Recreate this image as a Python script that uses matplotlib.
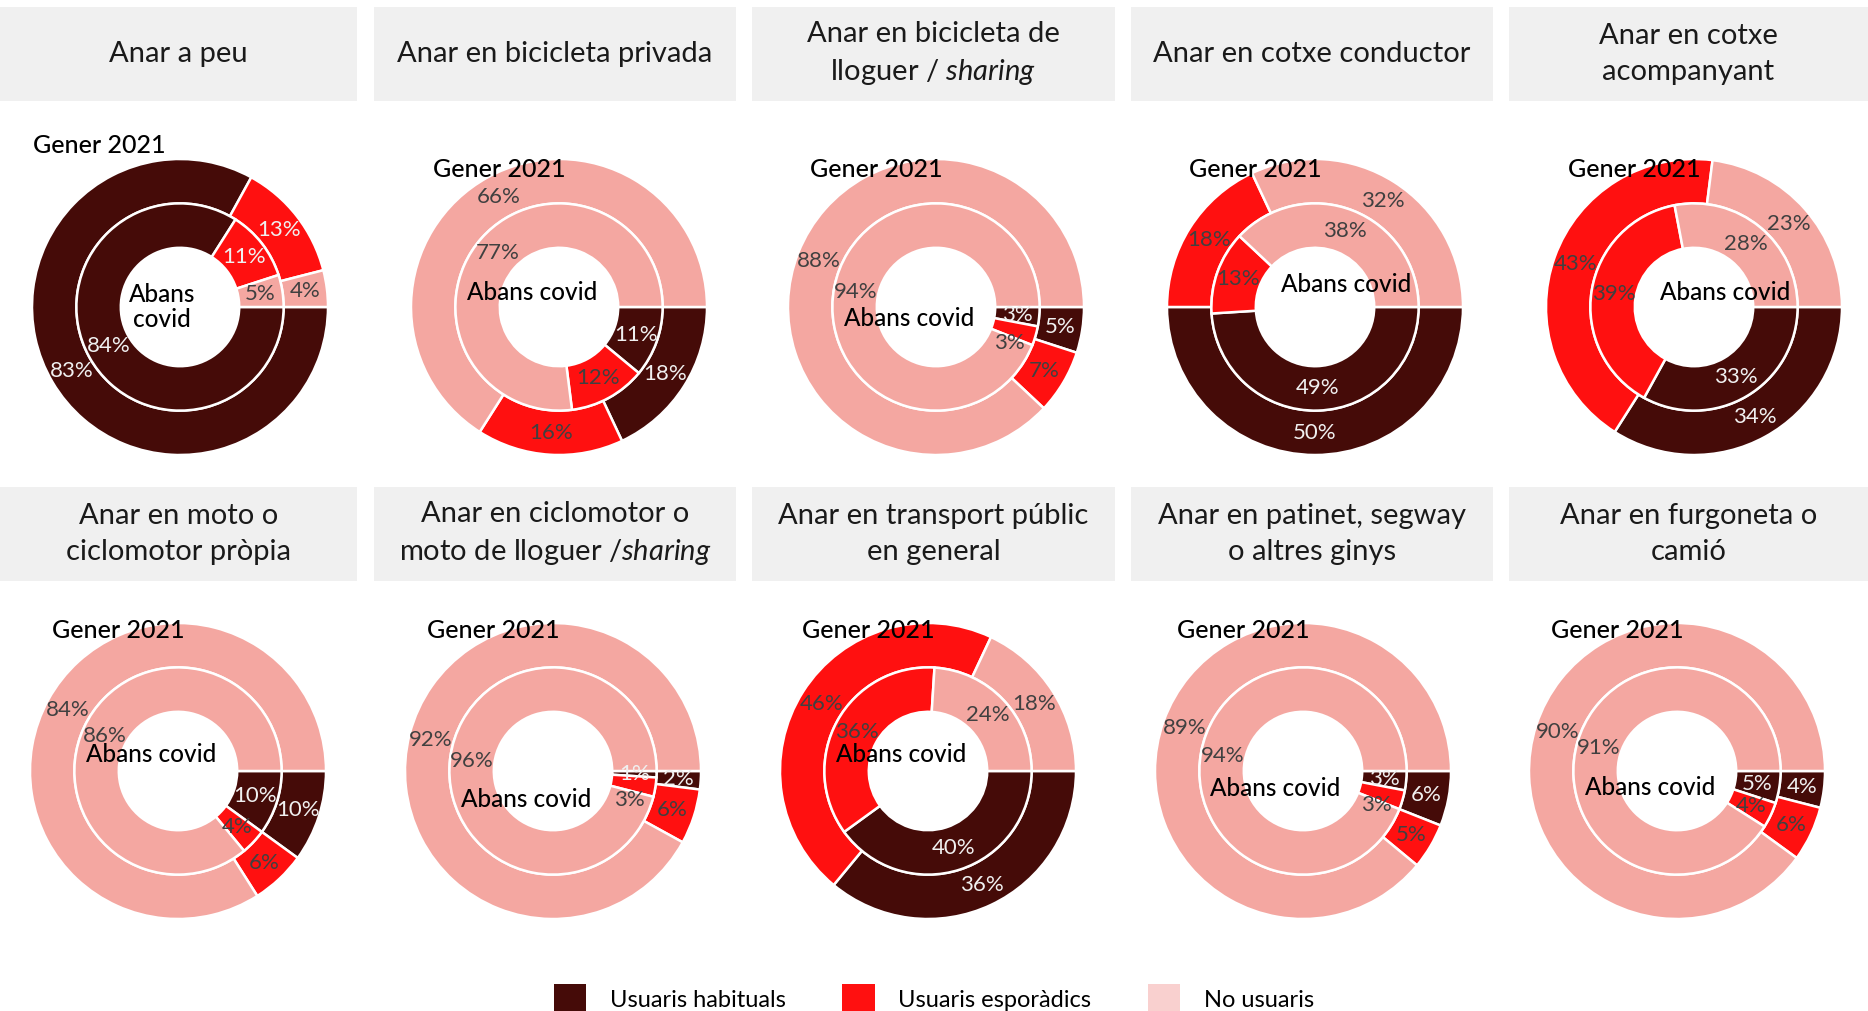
import matplotlib
matplotlib.use("Agg")
import matplotlib.pyplot as plt
import numpy as np
from matplotlib.patches import Patch

plt.rcParams['font.family'] = ['Lato', 'DejaVu Sans']
plt.rcParams['mathtext.fontset'] = 'custom'
plt.rcParams['mathtext.it'] = 'Lato:italic'
plt.rcParams['mathtext.rm'] = 'Lato'

# data
titles = [
    "Anar a peu",
    "Anar en bicicleta privada",
    "Anar en bicicleta de\nlloguer / $\\it{sharing}$",
    "Anar en cotxe conductor",
    "Anar en cotxe\nacompanyant",
    "Anar en moto o\nciclomotor pròpia",
    "Anar en ciclomotor o\nmoto de lloguer /$\\it{sharing}$",
    "Anar en transport públic\nen general",
    "Anar en patinet, segway\no altres ginys",
    "Anar en furgoneta o\ncamió",
]
categories = ["Usuaris habituals", "Usuaris esporàdics", "No usuaris"]
# outer ring: Gener 2021 (habituals, esporadics, no usuaris)
gener_2021 = [
    [83, 13, 4], [18, 16, 66], [5, 7, 88], [50, 18, 32], [34, 43, 23],
    [10, 6, 84], [2, 6, 92], [36, 46, 18], [6, 5, 89], [4, 6, 90],
]
# inner ring: Abans covid
abans_covid = [
    [84, 11, 5], [11, 12, 77], [3, 3, 94], [49, 13, 38], [33, 39, 28],
    [10, 4, 86], [1, 3, 96], [40, 36, 24], [3, 3, 94], [5, 4, 91],
]

colors = ["#450B08", "#FF1010", "#F4A7A1"]
legend_colors = ["#450B08", "#FF1010", "#F9D0CF"]

W, H = 1868, 1011
fig = plt.figure(figsize=(W / 100, H / 100), dpi=100)

# layout in pixels
R = 148
centers = [(180, 307), (559, 307), (936, 307), (1315, 307), (1694, 307),
           (178, 771), (553, 771), (928, 771), (1303, 771), (1677, 771)]
header_x = [(0, 357), (374, 736), (752, 1115), (1131, 1493), (1509, 1868)]
header_y = [(7, 101), (487, 581)]
gener_pos = [(-0.99, 1.09)] + [(-0.85, 0.93)] * 4 + [(-0.85, 0.95)] * 5
abans_pos = [(-0.12, 0.0), (-0.18, 0.10), (-0.18, -0.08), (0.21, 0.15), (0.21, 0.10),
             (-0.18, 0.11), (-0.18, -0.19), (-0.18, 0.11), (-0.19, -0.12), (-0.18, -0.11)]
light_red_labels = [True] + [False] * 9
# thin inner slices whose label is pushed down along the ring (angle in degrees)
inner_label_angle = {2: -26, 6: -21, 8: -25}

for i in range(10):
    row, col = divmod(i, 5)
    x0, x1 = header_x[col]
    y0, y1 = header_y[row]
    hax = fig.add_axes([x0 / W, 1 - y1 / H, (x1 - x0) / W, (y1 - y0) / H])
    hax.set_facecolor("#F0F0F0")
    hax.set_xticks([])
    hax.set_yticks([])
    for s in hax.spines.values():
        s.set_visible(False)
    hax.text(0.5, 0.5, titles[i], ha='center', va='center', fontsize=21,
             color='#1a1a1a', linespacing=1.43, transform=hax.transAxes)

    cx, cy = centers[i]
    ax = fig.add_axes([(cx - R) / W, 1 - (cy + R) / H, 2 * R / W, 2 * R / H])
    wp = dict(width=0.3, edgecolor='white', linewidth=1.8)
    _, _, t_out = ax.pie(gener_2021[i], radius=1.0, colors=colors, startangle=0,
                         counterclock=False, wedgeprops=wp,
                         autopct=lambda p: f"{p:.0f}%", pctdistance=0.85,
                         textprops=dict(fontsize=16))
    _, _, t_in = ax.pie(abans_covid[i], radius=0.7, colors=colors, startangle=0,
                        counterclock=False, wedgeprops=wp,
                        autopct=lambda p: f"{p:.0f}%", pctdistance=0.786,
                        textprops=dict(fontsize=16))
    for texts in (t_out, t_in):
        for k, t in enumerate(texts):
            light = k == 0 or (k == 1 and light_red_labels[i])
            t.set_color('#F0F0F0' if light else '#404040')
    if i in inner_label_angle:
        a = np.deg2rad(inner_label_angle[i])
        t_in[1].set_position((0.55 * np.cos(a), 0.55 * np.sin(a)))
    ax.set_xlim(-1, 1)
    ax.set_ylim(-1, 1)
    ax.set_aspect('equal')
    ax.axis('off')

    gx, gy = gener_pos[i]
    ax.text(gx, gy, "Gener 2021", ha='left', va='center', fontsize=18,
            fontweight='medium', color='black')
    bx, by = abans_pos[i]
    label = "Abans\ncovid" if i == 0 else "Abans covid"
    ax.text(bx, by, label, ha='center', va='center', fontsize=17.5,
            fontweight='medium', color='black', linespacing=1.1)

handles = [Patch(facecolor=c, edgecolor='none') for c in legend_colors]
fig.legend(handles, categories, loc='center', bbox_to_anchor=(0.5, 0.012),
           ncol=3, frameon=False, fontsize=17, handlelength=1.37, handleheight=1.5,
           handletextpad=1.0, columnspacing=2.4)

fig.savefig("out.png", dpi=100, facecolor='white')
